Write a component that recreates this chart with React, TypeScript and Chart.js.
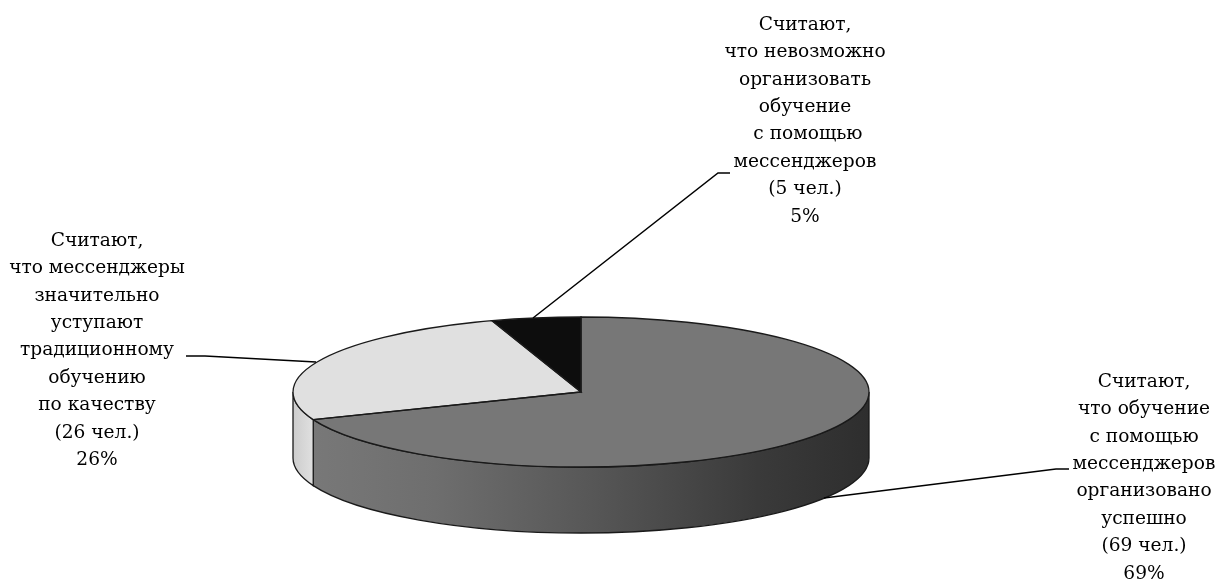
import React, { useEffect, useRef } from "react";
import { Chart, registerables } from "chart.js";

Chart.register(...registerables);

const categories = ["Успешно", "Уступают", "Невозможно"];
const values = [69, 26, 5];
const sliceColors = ["#777777", "#e0e0e0", "#0d0d0d"];
const labelLines = [
  ["Считают,", "что обучение", "с помощью", "мессенджеров", "организовано", "успешно", "(69 чел.)", "69%"],
  ["Считают,", "что мессенджеры", "значительно", "уступают", "традиционному", "обучению", "по качеству", "(26 чел.)", "26%"],
  ["Считают,", "что невозможно", "организовать", "обучение", " с помощью", "мессенджеров", "(5 чел.)", "5%"],
];

const FONT = '18.6px "DejaVu Serif"';
const LINE_H = 27.4;
const labelPos = [
  { x: 1144, y: 382 },
  { x: 97, y: 241 },
  { x: 805, y: 25 },
];
const leaders = [
  [[824, 498], [1056, 469], [1069, 469]],
  [[316, 362], [205, 356], [186, 356]],
  [[533, 318], [718, 173], [730, 173]],
];
const CX = 581, CY = 392, RY = 75, DEPTH = 66;

const pie3d = {
  id: "pie3d",
  beforeDatasetsDraw(chart: any) {
    const ctx = chart.ctx;
    const arcs = chart.getDatasetMeta(0).data;
    const rx = arcs[0].outerRadius;
    const walls = [
      { stops: [[0, "#787878"], [0.22, "#6e6e6e"], [0.5, "#575757"], [0.8, "#3a3a3a"], [1, "#2e2e2e"]] },
      { stops: [[0, "#cccccc"], [1, "#e0e0e0"]] },
    ];
    arcs.forEach((a: any, i: number) => {
      const s = Math.max(a.startAngle, 0);
      const e = Math.min(a.endAngle, Math.PI);
      if (e <= s || !walls[i]) return;
      const x0 = CX + rx * Math.cos(e);
      const x1 = CX + rx * Math.cos(s);
      const g = ctx.createLinearGradient(x0, 0, x1, 0);
      walls[i].stops.forEach(([o, c]: any) => g.addColorStop(o, c));
      ctx.save();
      ctx.beginPath();
      ctx.ellipse(CX, CY + DEPTH, rx, RY, 0, s, e);
      ctx.lineTo(x0, CY + RY * Math.sin(e));
      ctx.ellipse(CX, CY, rx, RY, 0, e, s, true);
      ctx.closePath();
      ctx.fillStyle = g;
      ctx.fill();
      ctx.strokeStyle = "#1a1a1a";
      ctx.lineWidth = 1.3;
      ctx.stroke();
      ctx.restore();
    });
    ctx.save();
    ctx.translate(CX, CY);
    ctx.scale(1, RY / rx);
    ctx.translate(-arcs[0].x, -arcs[0].y);
  },
  afterDatasetsDraw(chart: any) {
    const ctx = chart.ctx;
    ctx.restore();
    const arcs = chart.getDatasetMeta(0).data;
    const rx = arcs[0].outerRadius;
    ctx.save();
    ctx.strokeStyle = "#1a1a1a";
    ctx.lineWidth = 1.3;
    arcs.forEach((a: any) => {
      ctx.beginPath();
      ctx.moveTo(CX, CY);
      ctx.ellipse(CX, CY, rx, RY, 0, a.startAngle, a.endAngle);
      ctx.closePath();
      ctx.stroke();
    });
    ctx.restore();
  },
  afterDraw(chart: any) {
    const ctx = chart.ctx;
    ctx.save();
    ctx.strokeStyle = "#000000";
    ctx.lineWidth = 1.5;
    leaders.forEach((pts) => {
      ctx.beginPath();
      pts.forEach(([x, y], i) => (i ? ctx.lineTo(x, y) : ctx.moveTo(x, y)));
      ctx.stroke();
    });
    ctx.font = FONT;
    ctx.fillStyle = "#000000";
    ctx.textAlign = "center";
    ctx.textBaseline = "middle";
    labelLines.forEach((lines, i) => {
      lines.forEach((t, j) => {
        ctx.fillText(t, labelPos[i].x, labelPos[i].y + j * LINE_H);
      });
    });
    ctx.restore();
  },
};

export default function App() {
  const ref = useRef<HTMLCanvasElement>(null);
  useEffect(() => {
    const chart = new Chart(ref.current!, {
      type: "pie",
      data: {
        labels: categories,
        datasets: [{ data: values, backgroundColor: sliceColors, borderWidth: 0 }],
      },
      options: {
        animation: false,
        responsive: false,
        layout: { padding: { top: 2, bottom: 2, left: 0, right: 56 } },
        plugins: { legend: { display: false }, tooltip: { enabled: false } },
      },
      plugins: [pie3d],
    } as any);
    return () => chart.destroy();
  }, []);
  return (
    <div style={{ position: "absolute", left: 0, top: 0, width: 1218, height: 580, background: "#fff" }}>
      <canvas ref={ref} width={1218} height={580} style={{ display: "block" }} />
    </div>
  );
}
